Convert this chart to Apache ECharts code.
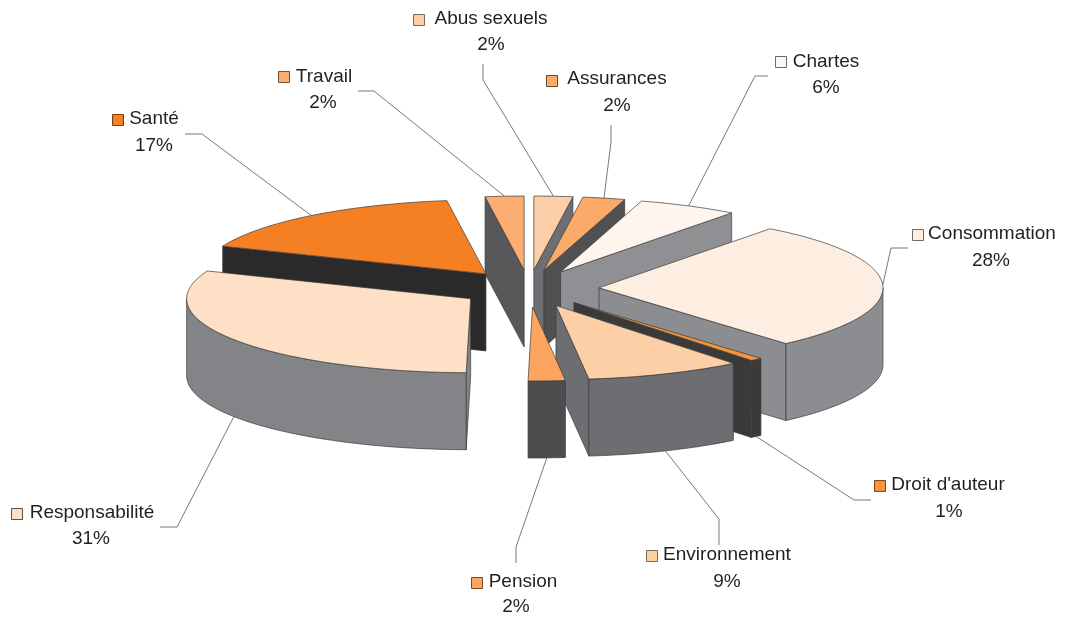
<!DOCTYPE html>
<html>
<head>
<meta charset="utf-8">
<script src="https://cdn.jsdelivr.net/npm/echarts@6/dist/echarts.min.js"></script>
<style>html,body{margin:0;padding:0;background:#fff}#c{width:1066px;height:617px}</style>
</head>
<body>
<div id="c"></div>
<script>
// Data, clockwise from twelve o'clock (labels show them rounded)
const categories = ['Abus sexuels','Assurances','Chartes','Consommation',"Droit d'auteur",'Environnement','Pension','Responsabilité','Santé','Travail'];
const shares = [2.2,2.4,5.7,28.3,0.7,8.9,2.1,30.9,16.7,2.2];

// Styles
const topColors  = ['#FCCFA8','#FBAA68','#FEF5EE','#FEEEE1','#F99239','#FDCFA6','#FDA560','#FDE0C6','#F58024','#FBAD72'];
const wallColors = ['#6E6F73','#505052','#8F9093','#8C8D90','#3A3A3A','#6D6E71','#4D4D4F','#838487','#2B292A','#58585A'];
const keyBorders = ['#7a6553','#6b4a2c','#6f6a66','#6f6a66','#7a4a20','#7a6553','#7a4a20','#5a5048','#7a4010','#7a5230'];

// Label layout
const labelLayout = [
  {key:[413,14], name:[491,19],  pct:[491,45],  elbow:[483,80],  stub:[483,64]},
  {key:[546,75], name:[617,79],  pct:[617,106], elbow:[611,142], stub:[611,125]},
  {key:[775,56], name:[826,62],  pct:[826,88],  elbow:[755,76],  stub:[768,76]},
  {key:[912,229],name:[992,234], pct:[991,261], elbow:[891,248], stub:[908,248]},
  {key:[874,480],name:[948,485], pct:[949,512], elbow:[854,500], stub:[871,500]},
  {key:[646,550],name:[727,555], pct:[727,582], elbow:[719,519], stub:[719,545]},
  {key:[471,577],name:[523,582], pct:[516,607], elbow:[516,547], stub:[516,563]},
  {key:[11,508], name:[92,513],  pct:[91,539],  elbow:[177,527], stub:[160,527]},
  {key:[112,114],name:[154,119], pct:[154,146], elbow:[202,134], stub:[185,134]},
  {key:[278,71], name:[324,77],  pct:[323,103], elbow:[374,91],  stub:[358,91]}
];

// Projection of the exploded pie
const CX = 529, CY = 288.5, RX = 284, RY = 74, EXPLODE = 70, EXPLODE_Y = 18.5, DEPTH = 77;
const total = shares.reduce((a,b)=>a+b,0);
const rad = d => d*Math.PI/180;
const cum = []; shares.reduce((a,v,i)=>{cum[i]=a;return a+v;},0);

function geometry(i){
  const a0 = cum[i]/total*360, a1 = (cum[i]+shares[i])/total*360, mid = (a0+a1)/2;
  const ax = CX + EXPLODE*Math.sin(rad(mid)), ay = CY - EXPLODE_Y*Math.cos(rad(mid));
  const rim = a => [ax + RX*Math.sin(rad(a)), ay - RY*Math.cos(rad(a))];
  return {a0,a1,mid,ax,ay,rim};
}
function arcPts(g,from,to){
  const pts=[], n=Math.max(2,Math.ceil((to-from)/1.5));
  for(let k=0;k<=n;k++) pts.push(g.rim(from+(to-from)*k/n));
  return pts;
}
const drop = p => [p[0],p[1]+DEPTH];
const LINE = '#3b3b3b';

function renderSlice(params, api){
  const i = params.dataIndex, g = geometry(i);
  const base = Math.round((1 - Math.cos(rad(g.mid)))*100)*10;
  const color = topColors[i], wall = wallColors[i];
  const children = [];
  let z = base;
  const poly = (points,fill)=>children.push({type:'polygon',z2:z++,silent:true,shape:{points},
    style:{fill,stroke:LINE,lineWidth:0.7,lineJoin:'round'}});
  const apex=[g.ax,g.ay];
  if(Math.sin(rad(g.a0))<-1e-6){ const r=g.rim(g.a0); poly([apex,r,drop(r),drop(apex)],wall); }
  if(Math.sin(rad(g.a1))> 1e-6){ const r=g.rim(g.a1); poly([apex,r,drop(r),drop(apex)],wall); }
  const f=Math.max(g.a0,90), t=Math.min(g.a1,270);
  if(t>f){ const arc=arcPts(g,f,t); poly(arc.concat(arc.slice().reverse().map(drop)),wall); }
  poly([apex].concat(arcPts(g,g.a0,g.a1)),color);
  return {type:'group',children};
}

function renderLabel(params, api){
  const i = params.dataIndex, g = geometry(i), L = labelLayout[i];
  let end = g.rim(g.mid);
  if(g.mid>90 && g.mid<270) end = drop(end);
  const font = '19px "Liberation Sans", Arial, sans-serif';
  const txt = (p,text)=>({type:'text',z2:5000,silent:true,style:{text,x:p[0],y:p[1],font,fill:'#231F20',
    textAlign:'center',textVerticalAlign:'middle'}});
  return {type:'group',children:[
    {type:'polyline',z2:4000,silent:true,shape:{points:[L.stub,L.elbow,end]},style:{fill:null,stroke:'#555',lineWidth:0.8}},
    {type:'rect',z2:5000,silent:true,shape:{x:L.key[0]+.5,y:L.key[1]+.5,width:11,height:11},
      style:{fill:topColors[i],stroke:keyBorders[i],lineWidth:1}},
    txt(L.name,categories[i]),
    txt(L.pct,Math.round(shares[i])+'%')
  ]};
}

const chart = echarts.init(document.getElementById('c'),null,{renderer:'canvas',width:1066,height:617});
const seriesData = shares.map((v,i)=>({name:categories[i],value:v}));
chart.setOption({
  animation:false,
  backgroundColor:'#fff',
  series:[
    {type:'custom',coordinateSystem:'none',renderItem:renderSlice,data:seriesData,silent:true,z:2},
    {type:'custom',coordinateSystem:'none',renderItem:renderLabel,data:seriesData,silent:true,z:3}
  ]
});
</script>
</body>
</html>
